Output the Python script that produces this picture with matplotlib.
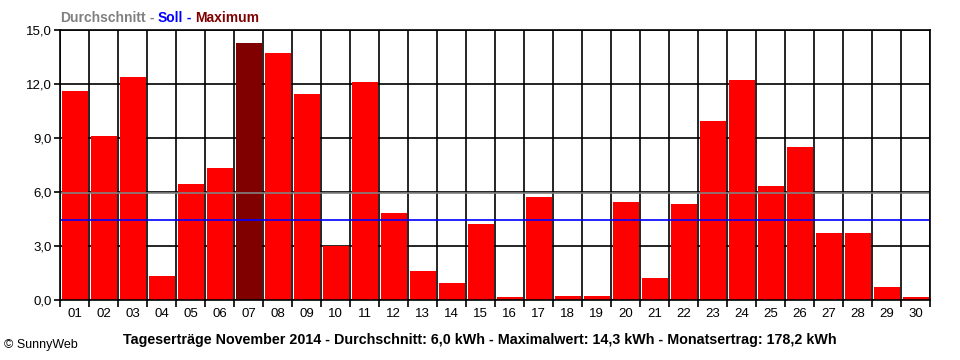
import matplotlib
matplotlib.use("Agg")
import matplotlib.pyplot as plt
import numpy as np

plt.rcParams['font.family'] = ['Liberation Sans', 'DejaVu Sans']

days = [f"{d:02d}" for d in range(1, 31)]
values = [11.6, 9.1, 12.4, 1.35, 6.45, 7.35, 14.3, 13.7, 11.45, 3.0,
          12.1, 4.85, 1.6, 0.95, 4.25, 0.17, 5.75, 0.22, 0.22, 5.45,
          1.2, 5.35, 9.95, 12.25, 6.35, 8.5, 3.75, 3.7, 0.7, 0.17]
average = 5.94
target = 4.43
yticks = [0, 3, 6, 9, 12, 15]
ytick_labels = ["0,0", "3,0", "6,0", "9,0", "12,0", "15,0"]
title_text = "Tageserträge November 2014 - Durchschnitt: 6,0 kWh - Maximalwert: 14,3 kWh - Monatsertrag: 178,2 kWh"
legend_parts = [("Durchschnitt", "#808080"), (" - ", "#808080"), ("Soll", "#0000FF"),
                (" - ", "#0000FF"), ("Maximum", "#800000")]

fig = plt.figure(figsize=(9.6, 3.6), dpi=100)
ax = fig.add_axes([60/960, 60/360, 870/960, 270/360])

n = len(values)
imax = int(np.argmax(values))
colors = ["#800000" if i == imax else "#FF0000" for i in range(n)]
x = np.arange(n)
ax.bar(x + 0.02, values, width=0.88, color=colors, zorder=2, linewidth=0)

ax.set_xlim(-0.5, n - 0.5)
ax.set_ylim(0, 15)

for b in np.arange(-0.5, n, 1.0):
    ax.axvline(b, color="black", lw=1.2, zorder=1)
for yv in yticks:
    ax.axhline(yv, color="black", lw=1.2, zorder=1)

ax.axhline(average, color="#808080", lw=1.2, zorder=3)
ax.axhline(target, color="#0000FF", lw=1.2, zorder=3)

for s in ax.spines.values():
    s.set_linewidth(1.2)
    s.set_zorder(4)

ax.set_yticks(yticks)
ax.set_yticklabels(ytick_labels, fontsize=9.5)
ax.set_xticks(np.arange(-0.5, n, 1.0), minor=False)
ax.set_xticklabels([])
ax.set_xticks(x, minor=True)
ax.set_xticklabels(days, minor=True, fontsize=9.5)
ax.tick_params(axis="x", which="major", length=5, width=1.2, direction="out")
ax.tick_params(axis="x", which="minor", length=0, pad=6)
ax.tick_params(axis="y", length=4, width=1.2, direction="out", pad=2)

renderer = fig.canvas.get_renderer()
xpos = 60/960
for txt, col in legend_parts:
    t = fig.text(xpos, 1 - 18/360, txt, color=col, fontsize=10,
                 fontweight="bold", va="center", ha="left")
    bb = t.get_window_extent(renderer=renderer)
    xpos += bb.width / 960

fig.text(480/960, 1 - 340/360, title_text, fontsize=10.3, fontweight="bold",
         ha="center", va="center")
fig.text(4/960, 1 - 345/360, "© SunnyWeb", fontsize=9, ha="left", va="center")

fig.savefig("out.png", dpi=100)
